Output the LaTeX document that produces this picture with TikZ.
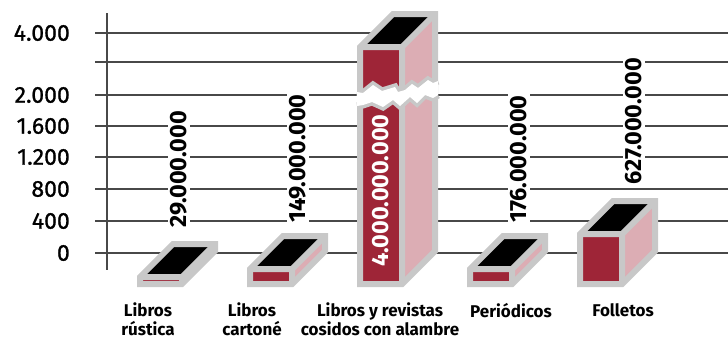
\documentclass[tikz,border=0pt]{standalone}
\usepackage{fontspec}
\setmainfont{Fira Sans}
\newfontfamily\ejefont[FakeBold=1]{Fira Sans}
\usepackage{tikz}
\usetikzlibrary{positioning,calc}

\definecolor{rojo}{HTML}{9E2537}
\definecolor{rosa}{HTML}{DCADB4}
\definecolor{gris}{HTML}{C8C8C8}
\definecolor{rejilla}{HTML}{484848}

\tikzset{
	frente/.style={fill=rojo},
	lado/.style={fill=rosa},
	tapa/.style={fill=black},
	borde/.style={draw=gris, line width=6pt, line join=miter},
	linea/.style={draw=rejilla, line width=1.5pt},
	valor/.style={rotate=90, anchor=west, fill=white, inner sep=3pt, font=\fontsize{23.5}{23.5}\selectfont\bfseries},
	eje/.style={anchor=east, inner sep=0pt, font=\fontsize{23}{23}\ejefont},
	categoria/.style={anchor=north, align=center, inner sep=0pt, font=\fontsize{17}{19}\selectfont\bfseries},
}

% caja: #1 = lado izquierdo del frente, #2 = arriba del frente (abajo siempre en 284)
\newcommand{\caja}[2]{
	\fill[frente] (#1,#2) rectangle (#1+42,284);
	\fill[lado] (#1+42,#2) -- (#1+75,#2-33) -- (#1+75,251) -- (#1+42,284) -- cycle;
	\fill[tapa] (#1,#2) -- (#1+33,#2-33) -- (#1+75,#2-33) -- (#1+42,#2) -- cycle;
	\draw[borde] (#1,284) -- (#1,#2) -- (#1+33,#2-33) -- (#1+75,#2-33) -- (#1+75,251) -- (#1+42,284) -- cycle;
	\draw[borde] (#1,#2) -- (#1+42,#2) -- (#1+75,#2-33) (#1+42,#2) -- (#1+42,284);
}

\begin{document}
\begin{tikzpicture}[x=1pt,y=-1pt]
	\useasboundingbox (0,0) rectangle (728,340);

	% rejilla y eje
	\foreach \y in {33,62,95,126,157,189,221,253}
		\draw[linea] (95,\y) -- (728,\y);
	\draw[linea] (107,13) -- (107,270);

	\node[eje] (e4000) at (70,33) {4.000};
	\node[eje] (e2000) at (70,95) {2.000};
	\node[eje] (e1600) at (70,126) {1.600};
	\node[eje] (e1200) at (70,157) {1.200};
	\node[eje] (e800) at (70,189) {800};
	\node[eje] (e400) at (70,221) {400};
	\node[eje] (e0) at (70,253) {0};

	% barras
	\caja{140}{277}
	\caja{250}{269}
	\caja{360}{47}
	\caja{470}{269}
	\caja{580}{234}

	\node[valor] (v1) at (179,231) {29.000.000};
	\node[valor] (v2) at (298,226) {149.000.000};
	\node[valor, fill=none, text=white] (v3) at (381,270) {4.000.000.000};
	\node[valor] (v4) at (519,226) {176.000.000};
	\node[valor] (v5) at (634,188) {627.000.000};

	% corte de la barra alta
	\draw[draw=gris, line width=7pt]
		(357,92) -- (363,93) -- (373,85) -- (382,91) -- (395,87) -- (398,92) -- (405,90) -- (412,84) -- (418,88) -- (428,80) -- (433,83) -- (438,81)
		(357,106) -- (363,105) -- (372,102) -- (383,107) -- (393,100) -- (400,106) -- (410,97) -- (417,103) -- (425,95) -- (433,98) -- (438,95);
	\fill[white] (357,92) -- (363,93) -- (373,85) -- (382,91) -- (395,87) -- (398,92) -- (405,90) -- (412,84) -- (418,88) -- (428,80) -- (433,83) -- (438,81)
		-- (438,95) -- (433,98) -- (425,95) -- (417,103) -- (410,97) -- (400,106) -- (393,100) -- (383,107) -- (372,102) -- (363,105) -- (357,106) -- cycle;

	% categorias
	\node[categoria] (c1) at (148,303) {Libros\\rústica};
	\node[categoria] (c2) at (252,303) {Libros\\cartoné};
	\node[categoria] (c3) at (380,303) {Libros y revistas\\cosidos con alambre};
	\node[categoria] (c4) at (511,303) {Periódicos};
	\node[categoria] (c5) at (623,303) {Folletos};
\end{tikzpicture}
\end{document}
